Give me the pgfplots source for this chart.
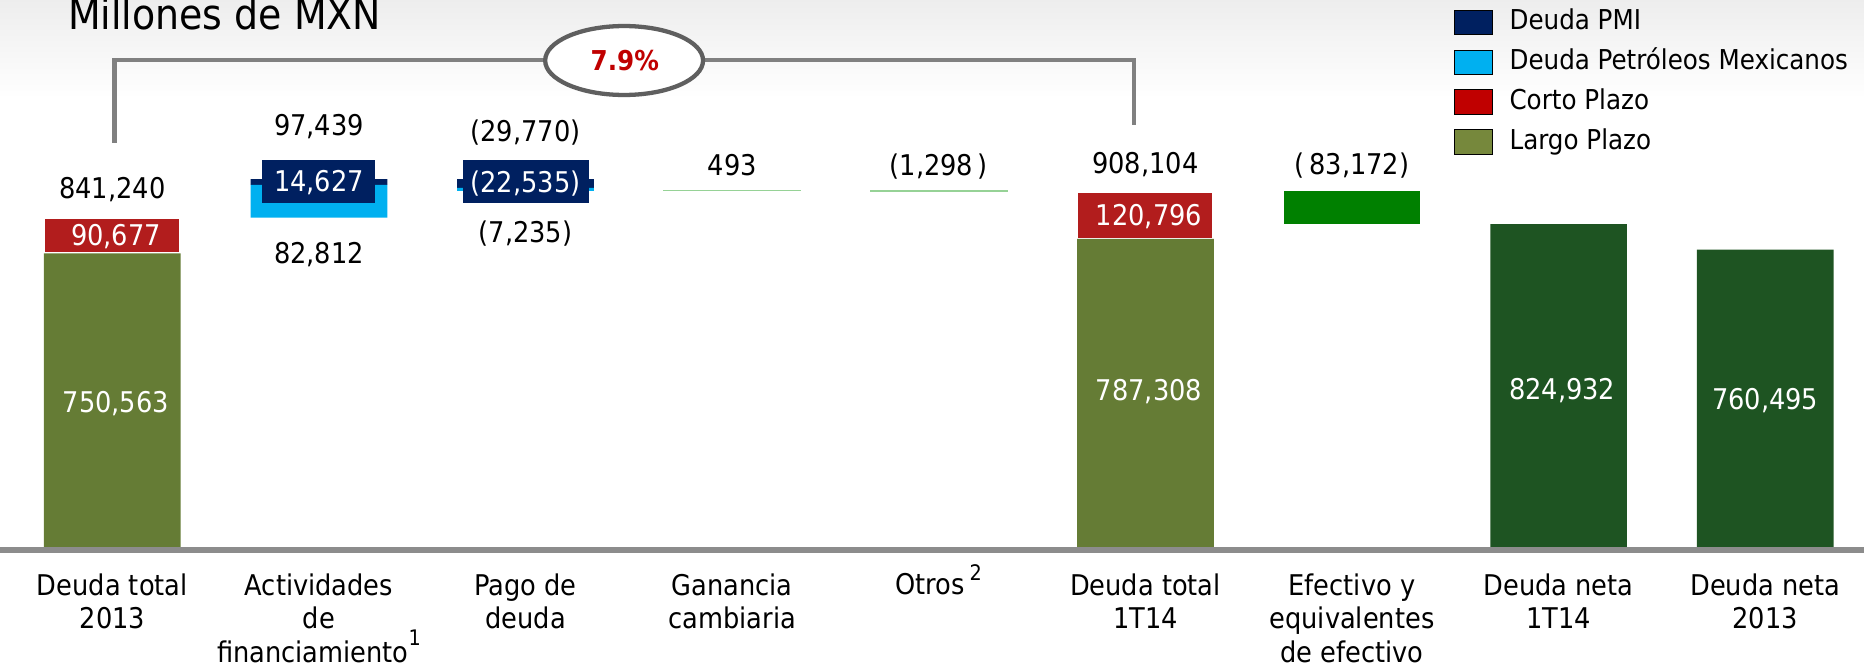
\documentclass[border=0pt]{standalone}
\usepackage{fontspec}
\setmainfont{DejaVu Sans Condensed}
\usepackage{pgfplots}
\usepackage{pgfplotstable}
\pgfplotsset{compat=1.18}
\definecolor{cLargo}{RGB}{101,124,53}
\definecolor{cLargoLeg}{RGB}{118,136,60}
\definecolor{cCorto}{RGB}{178,29,29}
\definecolor{cCortoLeg}{RGB}{192,0,0}
\definecolor{cPMI}{RGB}{0,32,96}
\definecolor{cPetro}{RGB}{0,176,240}
\definecolor{cNeta}{RGB}{30,84,34}
\definecolor{cEfec}{RGB}{0,128,0}
\definecolor{cLine}{RGB}{150,210,150}
\definecolor{cAxis}{RGB}{140,140,140}
\definecolor{cBracket}{RGB}{128,128,128}
\definecolor{cEllipse}{RGB}{95,95,95}
\definecolor{cPct}{RGB}{192,0,0}

% stacked waterfall: invisible base + visible segments
\pgfplotstableread{
x base largo corto petro pmi neta efectivo
0 0 750563 90677 0 0 0 0
1 841240 0 0 82812 14627 0 0
2 908909 0 0 7235 22535 0 0
3 0 0 0 0 0 0 0
4 0 0 0 0 0 0 0
5 0 787308 120796 0 0 0 0
6 824932 0 0 0 0 0 83172
7 0 0 0 0 0 824932 0
8 0 0 0 0 0 760495 0
}\data
% small changes (Ganancia cambiaria, Otros)
\pgfplotstableread{
x base otros
3 908909 493
4 908104 1298
}\small

\pgfplotsset{geom/.style={at={(0pt,0pt)}, anchor=south west,
  scale only axis, width=784pt, height=231.5pt,
  xmin=-0.54373, xmax=8.4781, ymin=0, ymax=1391315,
  ybar stacked, bar width=57.5pt}}

\begin{document}
\begin{tikzpicture}[
  lbl/.style={font=\fontsize{12}{14}\selectfont, text height=8.75pt, text depth=0pt, inner sep=0pt, anchor=center},
  wlbl/.style={lbl, text=white, xshift=1.5pt}]
\useasboundingbox (0pt,-49.5pt) rectangle (784pt,231.5pt);
\fill[top color=black!7, bottom color=white, draw=none] (0pt,190pt) rectangle (784pt,231.5pt);
\begin{axis}[geom,
  axis y line=none, axis x line*=bottom,
  x axis line style={cAxis, line width=2.5pt},
  xtick={0,...,8},
  xticklabels={{Deuda total\\2013},{Actividades\\de\\financiamiento\smash{\raisebox{7pt}{\fontsize{9}{9}\selectfont 1}}},{Pago de\\deuda},{Ganancia\\cambiaria},{Otros\,\smash{\raisebox{6pt}{\fontsize{9}{9}\selectfont 2}}},{Deuda total\\1T14},{Efectivo y\\equivalentes\\de efectivo},{Deuda neta\\1T14},{Deuda neta\\2013}},
  major tick length=0pt,
  xticklabel style={align=center, font=\fontsize{12}{14}\selectfont, yshift=-6.3pt},
  axis on top,
  legend style={draw=none, fill=none, at={(axis description cs:0.78,0.983)}, anchor=north west,
    font=\fontsize{11.5}{13}\selectfont, row sep=5.9pt, inner sep=0pt, outer sep=0pt,
    nodes={inner sep=0pt, text height=8.5pt, text depth=2.4pt},
    /tikz/every odd column/.append style={column sep=7pt}},
  legend cell align=left,
  legend image code/.code={\fill[#1] (0pt,-5.15pt) rectangle (16pt,5.15pt);},
]
\addplot[fill=none, draw=none, forget plot] table[x=x, y=base]{\data};
\addplot[fill=cLargo, draw=none, forget plot] table[x=x, y=largo]{\data};
\addplot[fill=cCorto, draw=white, line width=1.2pt, forget plot] table[x=x, y=corto]{\data};
\addplot[fill=cPetro, draw=none, forget plot] table[x=x, y=petro]{\data};
\addplot[fill=cPMI, draw=none, forget plot] table[x=x, y=pmi]{\data};
\addplot[fill=cNeta, draw=none, forget plot] table[x=x, y=neta]{\data};
\addplot[fill=cEfec, draw=none, forget plot] table[x=x, y=efectivo]{\data};

\addlegendimage{fill=cPMI}\addlegendentry{Deuda PMI}
\addlegendimage{fill=cPetro}\addlegendentry{Deuda Petróleos Mexicanos}
\addlegendimage{fill=cCortoLeg}\addlegendentry{Corto Plazo}
\addlegendimage{fill=cLargoLeg}\addlegendentry{Largo Plazo}
\end{axis}
\begin{axis}[geom, hide axis]
\addplot[fill=none, draw=none, forget plot] table[x=x, y=base]{\small};
\addplot[fill=cLine, draw=cLine, line width=0.5pt, forget plot] table[x=x, y=otros]{\small};

\node[lbl] at (axis cs:0,916525) {841,240};
\node[wlbl] at (axis cs:0,795901) {90,677};
\node[wlbl] at (axis cs:0,375625) {750,563};
\node[lbl] at (axis cs:1,1075790) {97,439};
\node[lbl, text=white, fill=cPMI, minimum width=47.5pt, minimum height=18pt] at (axis cs:1,932450) {14,627};
\node[lbl] at (axis cs:1,751250) {82,812};
\node[lbl] at (axis cs:2,1060765) {(29,770)};
\node[lbl, text=white, fill=cPMI, minimum width=53pt, minimum height=18pt] at (axis cs:2,931550) {(22,535)};
\node[lbl] at (axis cs:2,803840) {(7,235)};
\node[lbl] at (axis cs:3,973620) {493};
\node[lbl] at (axis cs:4,973620) {(1,298\,)};
\node[lbl] at (axis cs:5,978128) {908,104};
\node[wlbl] at (axis cs:5,847706) {120,796};
\node[wlbl] at (axis cs:5,405675) {787,308};
\node[lbl] at (axis cs:6,976620) {(\,83,172)};
\node[wlbl] at (axis cs:7,408680) {824,932};
\node[lbl, text=white] at (axis cs:8,381635) {760,495};
\end{axis}
\draw[cBracket, line width=1.7pt] (48.15pt,171.5pt) |- (229.3pt,206.25pt);
\draw[cBracket, line width=1.7pt] (295.7pt,206.25pt) -| (477pt,179pt);
\draw[cEllipse, line width=1.8pt, fill=white] (262.5pt,206.05pt) ellipse [x radius=33.2pt, y radius=14.5pt];
\node[font=\bfseries\fontsize{11.5}{12}\selectfont, text=cPct, inner sep=0pt] at (262.8pt,206pt) {7.9\%};
\node[anchor=base west, inner sep=0pt, font=\fontsize{17.7}{20}\selectfont] at (28.5pt,219pt) {Millones de MXN};
\end{tikzpicture}
\end{document}
